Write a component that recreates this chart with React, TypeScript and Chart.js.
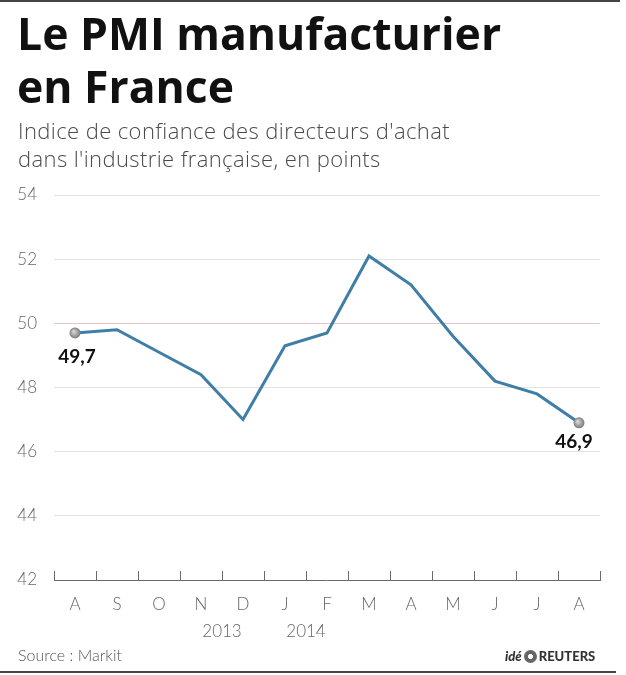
import React, { useEffect, useRef } from "react";
import { Chart, registerables } from "chart.js";

Chart.register(...registerables);

const months = ["A", "S", "O", "N", "D", "J", "F", "M", "A", "M", "J", "J", "A"];
const pmi = [49.7, 49.8, 49.1, 48.4, 47.0, 49.3, 49.7, 52.1, 51.2, 49.6, 48.2, 47.8, 46.9];
const yTicks = [42, 44, 46, 48, 50, 52, 54];
const yearLabels = [
  { text: "2013", between: [3, 4] },
  { text: "2014", between: [5, 6] },
];
const valueLabels = ["49,7", "46,9"];

const FONT = "Lato, 'Noto Sans', sans-serif";
const HFONT = "'Open Sans', 'Noto Sans', sans-serif";

const overlayPlugin = {
  id: "overlay",
  afterDatasetsDraw(chart: any) {
    const { ctx, chartArea, scales } = chart;
    const x = scales.x;
    ctx.save();
    ctx.strokeStyle = "#6a6a6a";
    ctx.lineWidth = 1;
    for (let i = 0; i <= months.length; i++) {
      const px = Math.round(x.getPixelForValue(i - 0.5)) + 0.5;
      ctx.beginPath();
      ctx.moveTo(px, chartArea.bottom);
      ctx.lineTo(px, chartArea.bottom - 9);
      ctx.stroke();
    }
    ctx.fillStyle = "#666";
    ctx.font = "300 17px " + FONT;
    ctx.textAlign = "center";
    ctx.textBaseline = "middle";
    yearLabels.forEach((yl) => {
      const px = (x.getPixelForValue(yl.between[0]) + x.getPixelForValue(yl.between[1])) / 2;
      ctx.fillText(yl.text, px, chartArea.bottom + 52);
    });
    const meta = chart.getDatasetMeta(0);
    const idxs = [0, pmi.length - 1];
    idxs.forEach((idx, k) => {
      const el = meta.data[idx];
      const g = ctx.createRadialGradient(el.x - 1.5, el.y - 1.5, 0.5, el.x, el.y, 5.5);
      g.addColorStop(0, "#d8d8d8");
      g.addColorStop(1, "#7a7a7a");
      ctx.fillStyle = g;
      ctx.beginPath();
      ctx.arc(el.x, el.y, 5.5, 0, Math.PI * 2);
      ctx.fill();
      ctx.fillStyle = "#111";
      ctx.font = "bold 19px " + FONT;
      ctx.textAlign = "center";
      ctx.textBaseline = "middle";
      if (k === 0) ctx.fillText(valueLabels[k], el.x + 2, el.y + 24);
      else ctx.fillText(valueLabels[k], el.x - 5, el.y + 19);
    });
    ctx.restore();
  },
};

function App() {
  const ref = useRef<HTMLCanvasElement>(null);
  useEffect(() => {
    const chart = new Chart(ref.current as HTMLCanvasElement, {
      type: "line",
      data: {
        labels: months,
        datasets: [
          {
            data: pmi,
            borderColor: "#3f7ea6",
            borderWidth: 3,
            pointRadius: 0,
            tension: 0,
            fill: false,
          },
        ],
      },
      options: {
        animation: false,
        responsive: false,
        events: [],
        layout: { padding: { top: 195, right: 26, bottom: 55, left: 0 } },
        plugins: { legend: { display: false }, tooltip: { enabled: false }, title: { display: false } },
        scales: {
          x: {
            offset: true,
            grid: { display: false, drawTicks: false, offset: true },
            border: { display: true, color: "#6a6a6a", width: 1 },
            ticks: { color: "#666", font: { family: FONT, size: 17, weight: "300" }, padding: 14, maxRotation: 0, autoSkip: false },
            afterFit: (s: any) => { s.height = 40; },
          },
          y: {
            min: 42,
            max: 54,
            afterBuildTicks: (s: any) => { s.ticks = yTicks.map((v) => ({ value: v })); },
            grid: {
              drawTicks: false,
              color: (c: any) => (c.tick && c.tick.value === 50 ? "#e6c4c6" : c.tick && c.tick.value === 42 ? "rgba(0,0,0,0)" : "#e2e2e2"),
              lineWidth: 1,
            },
            border: { display: false },
            ticks: { color: "#666", font: { family: FONT, size: 17, weight: "300" }, padding: 17 },
            afterFit: (s: any) => { s.width = 54; },
          },
        },
      },
      plugins: [overlayPlugin],
    });
    return () => chart.destroy();
  }, []);

  return (
    <div style={{ position: "fixed", left: 0, top: 0, width: 626, height: 675, background: "#fff", overflow: "hidden", fontFamily: FONT }}>
      <div style={{ position: "absolute", left: 0, top: 0, width: 620, height: 2, background: "#444" }} />
      <canvas ref={ref} width={626} height={675} style={{ position: "absolute", left: 0, top: 0 }} />
      <div style={{ position: "absolute", left: 17, top: 6, fontFamily: HFONT, fontSize: 44.5, fontWeight: 700, lineHeight: "53px", color: "#111", whiteSpace: "nowrap" }}>
        Le PMI manufacturier
        <br />
        en France
      </div>
      <div style={{ position: "absolute", left: 18, top: 116, fontFamily: HFONT, fontSize: 22, fontWeight: 300, lineHeight: "28px", color: "#4a4a4a", whiteSpace: "nowrap", letterSpacing: 0.4 }}>
        Indice de confiance des directeurs d'achat
        <br />
        dans l'industrie française, en points
      </div>
      <div style={{ position: "absolute", left: 18, top: 645, fontSize: 16, fontWeight: 300, color: "#555" }}>Source : Markit</div>
      <div style={{ position: "absolute", left: 505, top: 648, fontSize: 13, fontWeight: 900, color: "#333", display: "flex", alignItems: "center", gap: 2 }}>
        <span style={{ fontStyle: "italic" }}>idé</span>
        <span style={{ display: "inline-block", width: 13, height: 13, borderRadius: "50%", background: "radial-gradient(circle, #fff 0 25%, #666 30% 100%)" }} />
        <span>REUTERS</span>
      </div>
      <div style={{ position: "absolute", left: 0, top: 671, width: 616, height: 2, background: "#444" }} />
    </div>
  );
}

export default App;
